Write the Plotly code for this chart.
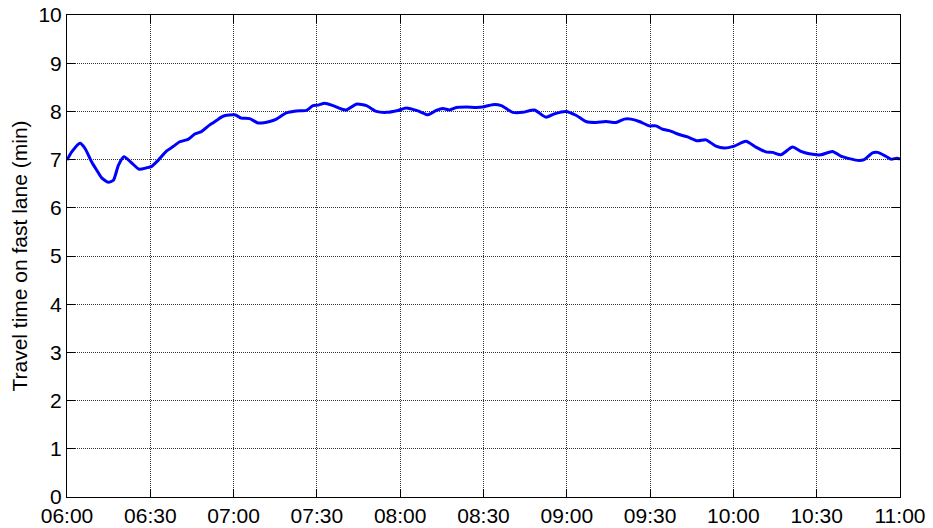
import pandas as pd
import plotly.graph_objects as go

# minutes after 06:00 and travel time on the fast lane (min)
minutes = [0, 1.7, 4.7, 6.5, 8.9, 10.7, 12.5, 14.9, 16.7, 18.5, 20.5, 23.3, 26, 28.7,
           30.5, 32.9, 35.9, 38.2, 40.6, 43.6, 46, 48.4, 51.4, 53.8, 56.2, 60.4, 62.8,
           65.8, 68.8, 73, 75.4, 79, 82.6, 86.2, 88.6, 90.4, 92.8, 95.8, 98.8, 100.6,
           104.2, 107.8, 111.4, 115, 119.2, 122.2, 126.4, 130, 133, 135.4, 137.8, 140.2,
           143.8, 147.4, 149.7, 153.3, 156.4, 160.5, 164.1, 168.3, 172.5, 175.5, 179.7,
           183.3, 186.9, 190.5, 194.1, 197.7, 200.7, 203.1, 206.1, 209.7, 212.1, 214.5,
           216.9, 220.5, 223.5, 227.1, 230.1, 233.7, 236.7, 240.3, 244.5, 248.1, 251.7,
           254.1, 257.1, 261.3, 264.3, 267.3, 271.5, 275.7, 278.7, 281.7, 285.3, 287.1,
           290.1, 291.9, 294.9, 296.7, 299, 300]
travel_time = [6.99, 7.16, 7.34, 7.23, 6.95, 6.78, 6.62, 6.53, 6.57, 6.88, 7.06, 6.93, 6.80, 6.83,
               6.86, 6.99, 7.18, 7.27, 7.37, 7.42, 7.53, 7.58, 7.72, 7.81, 7.90, 7.93, 7.86,
               7.85, 7.76, 7.79, 7.84, 7.97, 8.01, 8.02, 8.12, 8.13, 8.17, 8.12, 8.05, 8.03,
               8.15, 8.12, 8.00, 7.98, 8.02, 8.07, 8.01, 7.93, 8.02, 8.06, 8.03, 8.08,
               8.09, 8.08, 8.09, 8.14, 8.12, 7.98, 7.98, 8.03, 7.88, 7.95, 8.00,
               7.92, 7.79, 7.77, 7.79, 7.77, 7.84, 7.84, 7.79, 7.70, 7.70, 7.63,
               7.60, 7.52, 7.47, 7.39, 7.41, 7.28, 7.24, 7.28, 7.38, 7.26, 7.16,
               7.15, 7.10, 7.26, 7.17, 7.12, 7.10, 7.17, 7.07, 7.02, 6.98, 7.00,
               7.14, 7.15, 7.07, 7.01, 7.03, 7.01]

start = pd.Timestamp("2000-01-01 06:00")
times = [start + pd.Timedelta(minutes=m) for m in minutes]

FONT = dict(family="Arial, Liberation Sans, sans-serif", size=21, color="black")

fig = go.Figure(go.Scatter(x=times, y=travel_time, mode="lines",
                           line=dict(color="#0000FF", width=3, shape="spline", smoothing=0.6),
                           showlegend=False))

axis = dict(showline=True, linecolor="black", linewidth=1, mirror="ticks",
            ticks="inside", ticklen=8, tickcolor="black", tickwidth=1,
            showgrid=True, gridcolor="#333333", griddash="1px,1px", gridwidth=1,
            zeroline=False, tickfont=FONT, automargin=False, ticklabeloverflow="allow")

fig.update_xaxes(range=[start, start + pd.Timedelta(hours=5)], dtick=30 * 60 * 1000,
                 tickformat="%H:%M", **axis)
fig.update_yaxes(range=[0, 10], dtick=1,
                 title=dict(text="Travel time on fast lane (min)", font=dict(FONT, size=21),
                            standoff=7), **axis)

# page body has an 8px margin, so the figure is sized to fit the window after it
fig.update_layout(width=925, height=520, paper_bgcolor="white", plot_bgcolor="white",
                  margin=dict(l=59, r=33, t=7, b=31), font=FONT)

fig.write_html("out.html")
